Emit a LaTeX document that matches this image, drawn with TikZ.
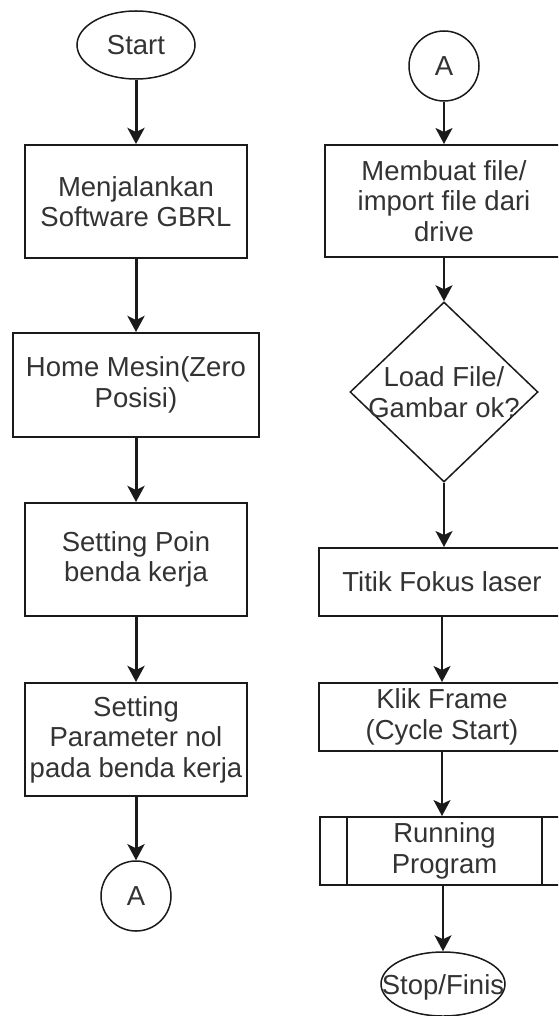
\documentclass[tikz,border=0pt]{standalone}
\usepackage{fontspec}
\setmainfont{Liberation Sans}
\usetikzlibrary{shapes.geometric,arrows.meta}
\definecolor{txt}{HTML}{333333}
\definecolor{ln}{HTML}{1A1A1A}
\begin{document}
\begin{tikzpicture}[x=1pt,y=-1pt,
  every node/.style={font=\fontsize{27.5}{30.5}\selectfont, text=txt, align=center, inner sep=0pt},
  box/.style={draw=ln, line width=2pt, rectangle},
  term/.style={draw=ln, line width=1.5pt, ellipse},
  conn/.style={draw=ln, line width=1.5pt, circle, minimum size=70pt},
  decis/.style={draw=ln, line width=1.5pt, diamond},
  proc/.style={box, path picture={
      \draw[ln, line width=2pt]
        ([xshift=27pt]path picture bounding box.north west) -- ([xshift=27pt]path picture bounding box.south west)
        ([xshift=-27pt]path picture bounding box.north east) -- ([xshift=-27pt]path picture bounding box.south east);}},
  flowL/.style={draw=ln, line width=3pt, -{Stealth[length=16pt,width=17pt,inset=4pt]}},
  flowR/.style={draw=ln, line width=2pt, -{Stealth[length=16pt,width=17pt,inset=4pt]}},
]
\useasboundingbox (0,0) rectangle (558,1016);
\clip (0,0) rectangle (558,1016);
\fill[white] (0,0) rectangle (558,1016);

% left column
\node[term, minimum width=118pt, minimum height=68pt] (start) at (136,45) {Start};
\node[box, minimum width=222pt, minimum height=113pt] (b1) at (136,201.5) {Menjalankan\\Software GBRL};
\node[box, minimum width=246pt, minimum height=104pt] (b2) at (136,385) {Home Mesin(Zero\\Posisi)};
\node[box, minimum width=222pt, minimum height=113pt] (b3) at (136,559.5) {Setting Poin\\benda kerja};
\node[box, minimum width=222pt, minimum height=113pt] (b4) at (136,739.5) {Setting\\Parameter nol\\pada benda kerja};
\node[conn] (a1) at (136,896) {A};

\draw[flowL] (start) -- (b1);
\draw[flowL] (b1) -- (b2);
\draw[flowL] (b2) -- (b3);
\draw[flowL] (b3) -- (b4);
\draw[flowL] (b4) -- (a1);

% right column
\node[conn] (a2) at (444,66) {A};
\node[box, minimum width=238pt, minimum height=112pt] (r1) at (444,201) {Membuat file/\\import file dari\\drive};
\node[decis, minimum width=188pt, minimum height=180pt,
      label={[align=center]center:{Load File/\\Gambar ok?}}] (dia) at (444,392) {};
\node[box, minimum width=246pt, minimum height=68pt] (r2) at (442,582) {Titik Fokus laser};
\node[box, minimum width=246pt, minimum height=68pt] (r3) at (442,717) {Klik Frame\\(Cycle Start)};
\node[proc, minimum width=249pt, minimum height=68pt] (r4) at (444.5,851) {Running\\Program};
\node[term, minimum width=124pt, minimum height=64pt,
      label={[yshift=-3pt]center:{Stop/Finis}}] (stop) at (443,984) {};

\draw[flowR] (a2) -- (r1);
\draw[flowR] (r1) -- (dia);
\draw[flowR] (dia.south) -- (dia.south |- r2.north);
\draw[flowR] (r2) -- (r3);
\draw[flowR] (r3.south) -- (r3.south |- r4.north);
\draw[flowR] (stop.north |- r4.south) -- (stop);
\end{tikzpicture}
\end{document}
